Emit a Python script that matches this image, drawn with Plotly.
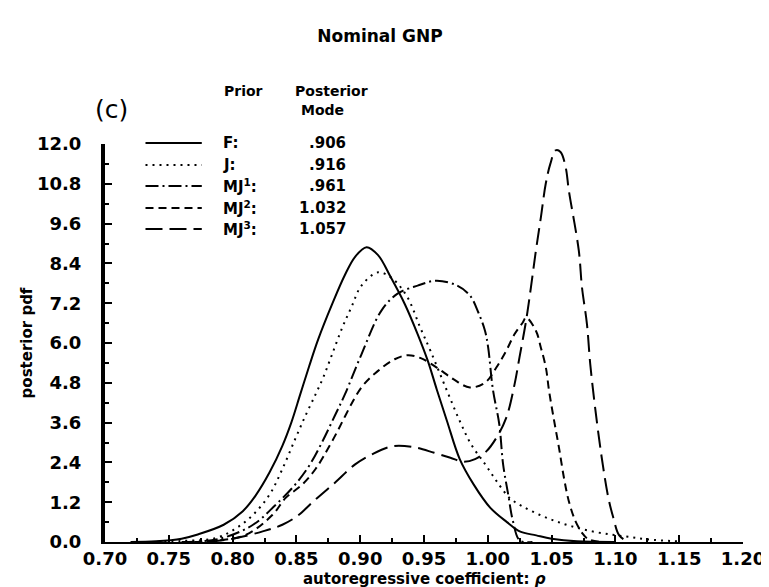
import plotly.graph_objects as go

# posterior pdf of the autoregressive coefficient
f_x = [0.72, 0.74, 0.76, 0.772, 0.793, 0.808, 0.818, 0.829, 0.839, 0.846, 0.853, 0.860, 0.867, 0.878, 0.888,
       0.896, 0.905, 0.914, 0.924, 0.935, 0.945, 0.953, 0.960, 0.968, 0.978, 0.989, 1.002, 1.015, 1.025,
       1.038, 1.05, 1.07, 1.10]
f_y = [0.0, 0.02, 0.1, 0.22, 0.52, 0.93, 1.4, 2.1, 2.9, 3.6, 4.45, 5.3, 6.1, 7.17, 8.05,
       8.6, 8.89, 8.65, 7.98, 7.17, 6.27, 5.46, 4.6, 3.65, 2.5, 1.73, 1.03, 0.6, 0.32,
       0.2, 0.1, 0.02, 0.0]

j_x = [0.73, 0.76, 0.787, 0.803, 0.816, 0.829, 0.839, 0.849, 0.857, 0.865, 0.871, 0.878, 0.886, 0.893,
       0.901, 0.914, 0.925, 0.937, 0.947, 0.955, 0.968, 0.978, 0.987, 0.998, 1.007, 1.017, 1.027, 1.040,
       1.053, 1.066, 1.082, 1.097, 1.110, 1.125, 1.15]
j_y = [0.0, 0.03, 0.12, 0.42, 0.82, 1.43, 2.2, 3.1, 3.8, 4.45, 4.96, 5.66, 6.47, 7.07,
       7.73, 8.13, 7.95, 7.38, 6.47, 5.77, 4.56, 3.65, 2.94, 2.34, 1.83, 1.33, 1.08, 0.83,
       0.63, 0.47, 0.32, 0.22, 0.16, 0.08, 0.02]

mj1_x = [0.76, 0.79, 0.816, 0.834, 0.849, 0.860, 0.870, 0.880, 0.888, 0.901, 0.9165, 0.929, 0.945, 0.960,
         0.976, 0.986, 0.9926, 0.9978, 1.0003, 1.004, 1.009, 1.012, 1.016, 1.0197, 1.025, 1.035]
mj1_y = [0.0, 0.1, 0.52, 1.13, 1.73, 2.3, 3.0, 3.8, 4.45, 5.66, 6.97, 7.48, 7.73, 7.88,
         7.73, 7.43, 6.92, 6.37, 5.86, 4.6, 3.55, 2.34, 1.43, 0.63, 0.05, 0.0]

mj2_x = [0.77, 0.79, 0.8107, 0.8313, 0.8416, 0.8545, 0.865, 0.878, 0.901, 0.914, 0.927, 0.937, 0.947, 0.960,
         0.973, 0.986, 0.998, 1.0067, 1.0145, 1.021, 1.0274, 1.030, 1.0377, 1.0416, 1.0455, 1.048, 1.052,
         1.0558, 1.0597, 1.0635, 1.0687, 1.074, 1.079, 1.09]
mj2_y = [0.0, 0.05, 0.22, 0.82, 1.33, 1.73, 2.2, 3.04, 4.66, 5.16, 5.51, 5.63, 5.55, 5.26,
         4.91, 4.66, 4.81, 5.26, 5.77, 6.27, 6.62, 6.77, 6.37, 5.86, 5.26, 4.56, 3.65,
         2.84, 1.93, 1.23, 0.63, 0.27, 0.08, 0.0]

mj3_x = [0.78, 0.80, 0.8236, 0.839, 0.852, 0.862, 0.870, 0.880, 0.896, 0.909, 0.9255, 0.942, 0.958, 0.9707,
         0.981, 0.990, 0.999, 1.0067, 1.0145, 1.021, 1.0248, 1.030, 1.0338, 1.0377, 1.0416, 1.0454, 1.049,
         1.0532, 1.057, 1.061, 1.0635, 1.0713, 1.0738, 1.0777, 1.0803, 1.0841, 1.0893, 1.0945, 1.0984,
         1.103, 1.11]
mj3_y = [0.0, 0.1, 0.32, 0.52, 0.82, 1.18, 1.45, 1.78, 2.34, 2.64, 2.89, 2.86, 2.69, 2.54,
         2.42, 2.5, 2.74, 3.14, 3.75, 4.76, 5.56, 6.67, 7.68, 8.79, 9.79, 10.80, 11.4,
         11.81, 11.76, 11.3, 10.6, 8.79, 7.68, 6.57, 5.36, 4.05, 2.54, 1.33, 0.73,
         0.2, 0.0]

priors = ["F:", "J:", "MJ<sup>1</sup>:", "MJ<sup>2</sup>:", "MJ<sup>3</sup>:"]
modes = [".906", ".916", ".961", "1.032", "1.057"]
dashes = ["solid", "2px,5px", "13px,4px,2px,4px", "8px,5px", "17px,7px"]

y_ticks = [round(1.2 * i, 1) for i in range(11)]
x_ticks = [round(0.70 + 0.05 * i, 2) for i in range(11)]

FONT = "DejaVu Sans"
W, H = 769, 587
L, R, T, B = 97, 26, 136, 53

def px(x):
    return (x - L) / (W - L - R)

def py(y):
    return (H - B - y) / (H - T - B)

fig = go.Figure()
series = [(f_x, f_y), (j_x, j_y), (mj1_x, mj1_y), (mj2_x, mj2_y), (mj3_x, mj3_y)]
for i, (xs, ys) in enumerate(series):
    fig.add_trace(go.Scatter(x=xs, y=ys, mode="lines", name=priors[i], showlegend=False,
                             line=dict(color="black", width=2, dash=dashes[i], shape="spline", smoothing=1.0)))

# hand made legend: key line, prior name, posterior mode
rows = [135, 157, 178, 200, 221]
for i in range(5):
    fig.add_shape(type="line", xref="paper", yref="paper", x0=px(138), x1=px(195), y0=py(rows[i]), y1=py(rows[i]),
                  line=dict(color="black", width=2, dash=dashes[i]))
    fig.add_annotation(xref="paper", yref="paper", x=px(214), y=py(rows[i]), text=priors[i], showarrow=False,
                       xanchor="left", yanchor="middle", font=dict(family=FONT, size=15, weight="bold", color="black"))
    fig.add_annotation(xref="paper", yref="paper", x=px(343), y=py(rows[i]), text=modes[i], showarrow=False,
                       xanchor="right", yanchor="middle", font=dict(family=FONT, size=15, weight="bold", color="black"))

heads = [("Prior", 237, 83), ("Posterior", 326, 83), ("Mode", 317, 102)]
for txt, hx, hy in heads:
    fig.add_annotation(xref="paper", yref="paper", x=px(hx), y=py(hy), text=txt, showarrow=False,
                       xanchor="center", yanchor="middle", font=dict(family=FONT, size=14, weight="bold", color="black"))
fig.add_annotation(xref="paper", yref="paper", x=px(104), y=py(102), text="(c)", showarrow=False,
                   xanchor="center", yanchor="middle", font=dict(family=FONT, size=25, color="black"))

# x axis title as annotation so it can sit close under the tick labels
fig.add_annotation(xref="paper", yref="paper", x=0.5, y=py(571), text="autoregressive coefficient: <i>ρ</i>",
                   showarrow=False, xanchor="center", yanchor="middle",
                   font=dict(family=FONT, size=15, weight="bold", color="black"))

fig.update_layout(
    width=W, height=H,
    margin=dict(l=L, r=R, t=T, b=B),
    plot_bgcolor="white", paper_bgcolor="white",
    font=dict(family=FONT, color="black"),
    title=dict(text="Nominal GNP", x=372 / W, xanchor="center", y=1 - 28 / H, yanchor="middle",
               font=dict(family=FONT, size=17, weight="bold", color="black")),
)
fig.update_xaxes(range=[0.70, 1.20], tickvals=x_ticks, ticktext=[f"{v:.2f}" for v in x_ticks],
                 ticks="inside", ticklen=7, tickwidth=2, tickcolor="black", ticklabelstandoff=-1,
                 minor=dict(dtick=0.025, ticks="inside", ticklen=4, tickwidth=2, tickcolor="black"),
                 showline=True, linecolor="black", linewidth=2, showgrid=False, zeroline=False,
                 tickfont=dict(family=FONT, size=18, weight="bold"))
fig.update_yaxes(range=[0, 12.0], tickvals=y_ticks, ticktext=[f"{v:.1f}" for v in y_ticks],
                 ticks="inside", ticklen=7, tickwidth=2, tickcolor="black", ticklabelstandoff=16,
                 minor=dict(dtick=0.6, ticks="inside", ticklen=4, tickwidth=2, tickcolor="black"),
                 showline=True, linecolor="black", linewidth=4, showgrid=False, zeroline=False,
                 tickfont=dict(family=FONT, size=18, weight="bold"),
                 title=dict(text="posterior pdf", standoff=2, font=dict(family=FONT, size=15, weight="bold")))

fig.write_html("out.html")
